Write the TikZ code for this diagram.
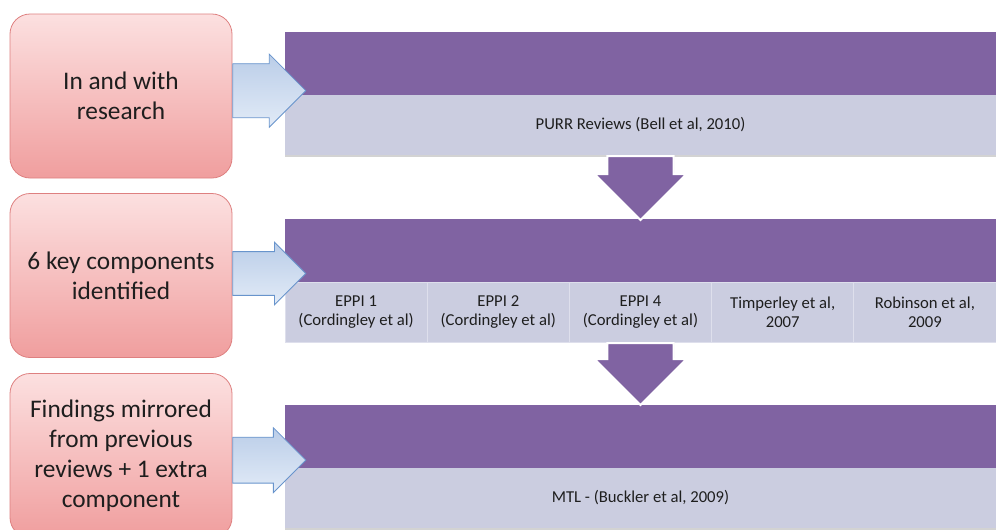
\documentclass[tikz,border=0pt]{standalone}
\usepackage{fontspec}
\setmainfont{Carlito}
\usepackage{tikz}
\usetikzlibrary{shapes.arrows,shadows,positioning}

\definecolor{purp}{RGB}{128,99,162}
\definecolor{lav}{RGB}{203,205,224}
\definecolor{lavline}{RGB}{222,223,236}
\definecolor{pinktop}{RGB}{252,224,224}
\definecolor{pinkbot}{RGB}{240,158,158}
\definecolor{pinkline}{RGB}{222,128,128}
\definecolor{bluetop}{RGB}{186,205,232}
\definecolor{bluebot}{RGB}{226,235,247}
\definecolor{blueline}{RGB}{104,148,204}
\definecolor{ink}{RGB}{30,30,30}

\begin{document}
\begin{tikzpicture}[x=0.75pt, y=-0.75pt,
    stage/.style={rectangle, rounded corners=15pt, draw=pinkline, line width=0.6pt,
      top color=pinktop, bottom color=pinkbot, minimum width=166.5pt, minimum height=123pt,
      align=center, text=ink, font=\fontsize{19}{22.5}\selectfont},
    band/.style={rectangle, fill=purp, minimum width=533.25pt, minimum height=47.25pt,
      inner sep=0pt, outer sep=0pt, anchor=north west},
    panel/.style={rectangle, fill=lav, minimum width=533.25pt, minimum height=45pt,
      inner sep=0pt, outer sep=0pt, anchor=north, text=ink, font=\fontsize{12.5}{14.5}\selectfont,
      drop shadow={shadow xshift=0pt, shadow yshift=-1.5pt, opacity=0.35}},
    cell/.style={rectangle, fill=lav, draw=lavline, line width=0.6pt, minimum width=106.65pt,
      minimum height=45pt, inner sep=0pt, outer sep=0pt, align=center, text=ink,
      font=\fontsize{12.5}{14.5}\selectfont},
    feed/.style={single arrow, draw=blueline, line width=0.6pt, top color=bluetop,
      bottom color=bluebot, inner xsep=0pt, minimum height=54.75pt, anchor=tail},
    drop/.style={single arrow, rotate=-90, fill=purp, draw=white, line width=1.5pt,
      inner xsep=0pt, inner ysep=17.6pt, minimum width=69pt, anchor=tail,
      drop shadow={shadow xshift=0.6pt, shadow yshift=0.6pt, opacity=0.25}}]

  \useasboundingbox (0,0) rectangle (996,529);
  \clip (0,0) rectangle (996,529);

  % review bars
  \node[band] (h1) at (285,32) {};
  \node[panel] (p1) at (h1.south) {PURR Reviews (Bell et al, 2010)};

  \node[band] (h2) at (285,219) {};
  \node[cell, anchor=north west] (c1) at (h2.south west) {EPPI 1\\(Cordingley et al)};
  \node[cell, right=0pt of c1] (c2) {EPPI 2\\(Cordingley et al)};
  \node[cell, right=0pt of c2] (c3) {EPPI 4\\(Cordingley et al)};
  \node[cell, right=0pt of c3] (c4) {Timperley et al,\\2007};
  \node[cell, right=0pt of c4] (c5) {Robinson et al,\\2009};

  \node[band] (h3) at (285,405) {};
  \node[panel] (p3) at (h3.south) {MTL - (Buckler et al, 2009)};

  % flow down
  \node[drop, minimum height=48pt] (d1) at (p1.south) {};
  \node[drop, minimum height=46.5pt] (d2) at (c3.south) {};

  % stages
  \node[stage] (s1) at (121,96) {In and with\\research};
  \node[stage] (s2) at (121,275.5) {6 key components\\identified};
  \node[stage] (s3) at (121,455.5) {Findings mirrored\\from previous\\reviews + 1 extra\\component};

  \node[feed, inner ysep=19.9pt, minimum width=54.75pt] (a1) at ([yshift=4]s1.east) {};
  \node[feed, inner ysep=16.1pt, minimum width=44.25pt] (a2) at ([yshift=1.5]s2.east) {};
  \node[feed, inner ysep=16.9pt, minimum width=45pt] (a3) at ([yshift=-3.5]s3.east) {};
\end{tikzpicture}
\end{document}
